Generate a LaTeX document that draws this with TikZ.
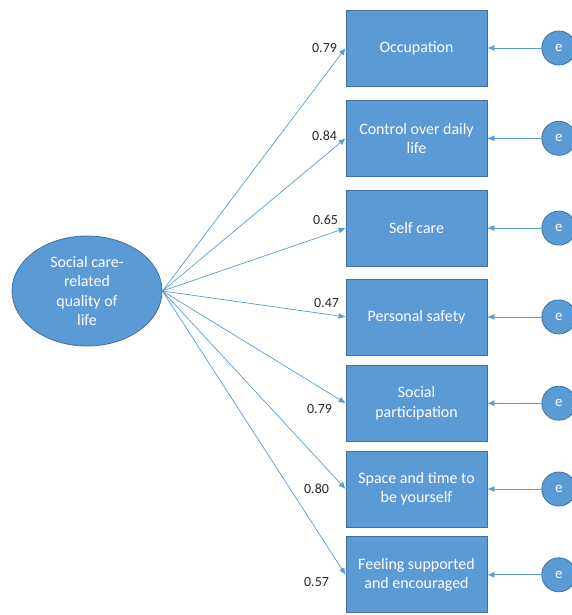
\documentclass[tikz,border=0pt]{standalone}
\usepackage{fontspec}
\setmainfont{Carlito}
\usetikzlibrary{arrows.meta,positioning,shapes.geometric}
\definecolor{boxfill}{RGB}{91,155,213}
\definecolor{boxline}{RGB}{65,113,156}
\definecolor{linkcol}{RGB}{91,155,213}
\definecolor{loadcol}{RGB}{38,38,38}

\begin{document}
\begin{tikzpicture}[x=1bp,y=-1bp,>={Latex[length=7bp,width=6bp]},node distance=13.5bp,
  every node/.style={font=\fontsize{16}{19.5}\selectfont},
  obs/.style={draw=boxline,fill=boxfill,text=white,align=center,minimum width=141bp,minimum height=76bp,inner sep=2bp,line width=0.8bp},
  lat/.style={ellipse,draw=boxline,fill=boxfill,text=white,align=center,minimum width=150bp,minimum height=110bp,inner sep=0pt,line width=0.8bp},
  err/.style={circle,draw=boxline,fill=boxfill,text=white,minimum size=34bp,inner sep=0pt,line width=0.8bp,font=\fontsize{15}{18}\selectfont},
  link/.style={draw=linkcol,line width=0.7bp},
  load/.style={text=loadcol,inner sep=0pt,font=\fontsize{14}{17}\selectfont}]
\clip (0,0) rectangle (572,615);
\node[lat] (sc) at (87,291) {Social care-\\related\\quality of\\life};
\node[obs] (occ) at (416.5,48) {Occupation};
\node[obs,below=of occ] (ctrl) {Control over daily\\life};
\node[obs,below=13bp of ctrl] (self) {Self care};
\node[obs,below=12bp of self] (safe) {Personal safety};
\node[obs,below=9.5bp of safe] (soc) {Social\\participation};
\node[obs,below=9bp of soc] (space) {Space and time to\\be yourself};
\node[obs,below=9bp of space] (feel) {Feeling supported\\and encouraged};
% error terms
\foreach \b in {occ,ctrl,self,safe,soc,space,feel}
  \node[err,right=54bp of \b] (e\b) {e};
\foreach \b in {occ,ctrl,self,safe,soc,space,feel}
  \draw[link,->] (e\b) -- (\b);
% loadings
\foreach \b/\v/\g/\dy in {occ/0.79/8.5/0,ctrl/0.84/8.5/2.5,self/0.65/7.5/8,safe/0.47/6.5/14,
    soc/0.79/13.5/-6,space/0.80/16.5/0,feel/0.57/16.5/-7} {
  \draw[link,->] (sc.east) -- (\b.west);
  \node[load,left=\g bp of \b.west,yshift=\dy bp] (l\b) {\v};
}
\end{tikzpicture}
\end{document}
